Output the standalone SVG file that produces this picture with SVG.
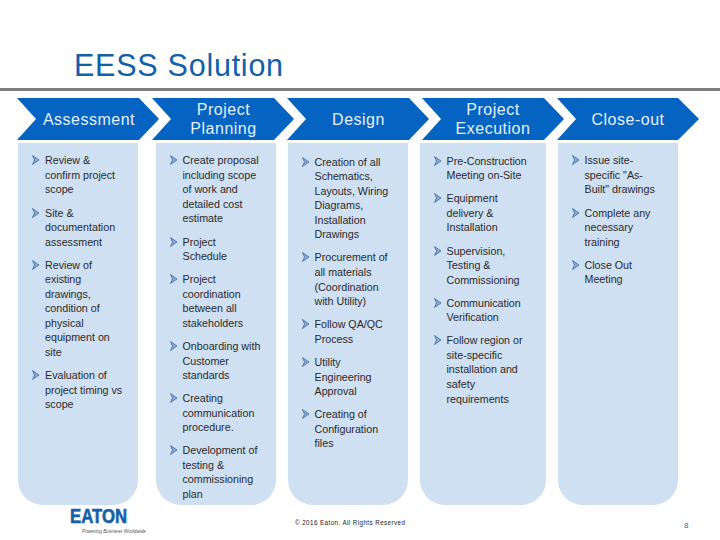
<svg xmlns="http://www.w3.org/2000/svg" width="720" height="540" viewBox="0 0 720 540">
<defs>
<path id="bu" d="M-3 -4.500 L3.500 0 L-3 4.500 L-1 0 Z" fill="#8fa9cc" stroke="#3e6aa6" stroke-width="0.8" stroke-linejoin="miter"/>
</defs>
<style>
text{font-family:"Liberation Sans",Arial,sans-serif}
.h{fill:#cfe0f3}
.c{fill:#0563c1}
.t{fill:#e4f0ff;font-size:16px;text-anchor:middle;letter-spacing:.5px}
.b{fill:#2a2a2a;font-size:10.7px}
</style>
<rect width="720" height="540" fill="#fff"/>
<text id="title" x="74" y="76" font-size="30.5" fill="#1060aa" letter-spacing=".75">EESS Solution</text>
<rect x="0" y="88" width="720" height="3" fill="#808080"/>
<g id="assessment">
<path class="h" d="M18 143H138V480a25 25 0 0 1-25 25H43a25 25 0 0 1-25-25Z"/>
<path class="c" d="M17 98H139L159 119L139 140H17L36 119Z"/>
<text class="t" x="89" y="124.500">Assessment</text>
<use href="#bu" x="35.500" y="160"/><use href="#bu" x="35.500" y="213"/><use href="#bu" x="35.500" y="265"/><use href="#bu" x="35.500" y="375"/>
<text class="b"><tspan x="45" y="164">Review &amp;</tspan><tspan x="45" y="179">confirm project</tspan><tspan x="45" y="193">scope</tspan><tspan x="45" y="217">Site &amp;</tspan><tspan x="45" y="231">documentation</tspan><tspan x="45" y="246">assessment</tspan><tspan x="45" y="269">Review of</tspan><tspan x="45" y="283">existing</tspan><tspan x="45" y="298">drawings,</tspan><tspan x="45" y="312">condition of</tspan><tspan x="45" y="327">physical</tspan><tspan x="45" y="341">equipment on</tspan><tspan x="45" y="356">site</tspan><tspan x="45" y="379">Evaluation of</tspan><tspan x="45" y="394">project timing vs</tspan><tspan x="45" y="408">scope</tspan></text>
</g>
<g id="planning">
<path class="h" d="M156 143H276V480a25 25 0 0 1-25 25H181a25 25 0 0 1-25-25Z"/>
<path class="c" d="M152 98H274L294 119L274 140H152L171 119Z"/>
<text class="t" x="223.500" y="115">Project</text><text class="t" x="223.500" y="134">Planning</text>
<use href="#bu" x="173.500" y="160"/><use href="#bu" x="173.500" y="242"/><use href="#bu" x="173.500" y="279"/><use href="#bu" x="173.500" y="346"/><use href="#bu" x="173.500" y="398"/><use href="#bu" x="173.500" y="450"/>
<text class="b"><tspan x="182.500" y="164">Create proposal</tspan><tspan x="182.500" y="179">including scope</tspan><tspan x="182.500" y="193">of work and</tspan><tspan x="182.500" y="208">detailed cost</tspan><tspan x="182.500" y="222">estimate</tspan><tspan x="182.500" y="246">Project</tspan><tspan x="182.500" y="260">Schedule</tspan><tspan x="182.500" y="283">Project</tspan><tspan x="182.500" y="298">coordination</tspan><tspan x="182.500" y="312">between all</tspan><tspan x="182.500" y="327">stakeholders</tspan><tspan x="182.500" y="350">Onboarding with</tspan><tspan x="182.500" y="365">Customer</tspan><tspan x="182.500" y="379">standards</tspan><tspan x="182.500" y="402">Creating</tspan><tspan x="182.500" y="417">communication</tspan><tspan x="182.500" y="431">procedure.</tspan><tspan x="182.500" y="454">Development of</tspan><tspan x="182.500" y="469">testing &amp;</tspan><tspan x="182.500" y="483">commissioning</tspan><tspan x="182.500" y="498">plan</tspan></text>
</g>
<g id="design">
<path class="h" d="M288 143H408V480a25 25 0 0 1-25 25H313a25 25 0 0 1-25-25Z"/>
<path class="c" d="M287 98H409L429 119L409 140H287L306 119Z"/>
<text class="t" x="358.500" y="124.500">Design</text>
<use href="#bu" x="305.500" y="162"/><use href="#bu" x="305.500" y="257"/><use href="#bu" x="305.500" y="324"/><use href="#bu" x="305.500" y="362"/><use href="#bu" x="305.500" y="414"/>
<text class="b"><tspan x="314.500" y="166">Creation of all</tspan><tspan x="314.500" y="180">Schematics,</tspan><tspan x="314.500" y="195">Layouts, Wiring</tspan><tspan x="314.500" y="209">Diagrams,</tspan><tspan x="314.500" y="224">Installation</tspan><tspan x="314.500" y="238">Drawings</tspan><tspan x="314.500" y="261">Procurement of</tspan><tspan x="314.500" y="276">all materials</tspan><tspan x="314.500" y="291">(Coordination</tspan><tspan x="314.500" y="305">with Utility)</tspan><tspan x="314.500" y="328">Follow QA/QC</tspan><tspan x="314.500" y="343">Process</tspan><tspan x="314.500" y="366">Utility</tspan><tspan x="314.500" y="381">Engineering</tspan><tspan x="314.500" y="395">Approval</tspan><tspan x="314.500" y="418">Creating of</tspan><tspan x="314.500" y="433">Configuration</tspan><tspan x="314.500" y="447">files</tspan></text>
</g>
<g id="execution">
<path class="h" d="M420 143H546V480a25 25 0 0 1-25 25H445a25 25 0 0 1-25-25Z"/>
<path class="c" d="M422 98H544L564 119L544 140H422L441 119Z"/>
<text class="t" x="493" y="115">Project</text><text class="t" x="493" y="134">Execution</text>
<use href="#bu" x="437.500" y="161"/><use href="#bu" x="437.500" y="198"/><use href="#bu" x="437.500" y="251"/><use href="#bu" x="437.500" y="303"/><use href="#bu" x="437.500" y="340"/>
<text class="b"><tspan x="446.500" y="165">Pre-Construction</tspan><tspan x="446.500" y="179">Meeting on-Site</tspan><tspan x="446.500" y="202">Equipment</tspan><tspan x="446.500" y="217">delivery &amp;</tspan><tspan x="446.500" y="231">Installation</tspan><tspan x="446.500" y="255">Supervision,</tspan><tspan x="446.500" y="269">Testing &amp;</tspan><tspan x="446.500" y="284">Commissioning</tspan><tspan x="446.500" y="307">Communication</tspan><tspan x="446.500" y="321">Verification</tspan><tspan x="446.500" y="344">Follow region or</tspan><tspan x="446.500" y="359">site-specific</tspan><tspan x="446.500" y="373">installation and</tspan><tspan x="446.500" y="388">safety</tspan><tspan x="446.500" y="403">requirements</tspan></text>
</g>
<g id="closeout">
<path class="h" d="M558 143H678V480a25 25 0 0 1-25 25H583a25 25 0 0 1-25-25Z"/>
<path class="c" d="M557 98H678L699 119L678 140H557L576 119Z"/>
<text class="t" x="628" y="124.500">Close-out</text>
<use href="#bu" x="575.500" y="160"/><use href="#bu" x="575.500" y="213"/><use href="#bu" x="575.500" y="265"/>
<text class="b"><tspan x="584.500" y="164">Issue site-</tspan><tspan x="584.500" y="179">specific "As-</tspan><tspan x="584.500" y="193">Built" drawings</tspan><tspan x="584.500" y="217">Complete any</tspan><tspan x="584.500" y="231">necessary</tspan><tspan x="584.500" y="246">training</tspan><tspan x="584.500" y="269">Close Out</tspan><tspan x="584.500" y="283">Meeting</tspan></text>
</g>
<g id="logo">
<text x="70" y="523" font-size="20" font-weight="700" fill="#1560a8" stroke="#1560a8" stroke-width=".6" textLength="57" lengthAdjust="spacingAndGlyphs">EATON</text>
<text x="82" y="532.500" font-size="6" font-style="italic" fill="#555" textLength="64" lengthAdjust="spacingAndGlyphs">Powering Business Worldwide</text>
</g>
<text id="footer" x="295" y="525" font-size="6.300" fill="#222" textLength="110" lengthAdjust="spacing">© 2016 Eaton. All Rights Reserved</text>
<text id="page" x="684" y="528" font-size="8" fill="#1a6fa8">8</text>
</svg>
